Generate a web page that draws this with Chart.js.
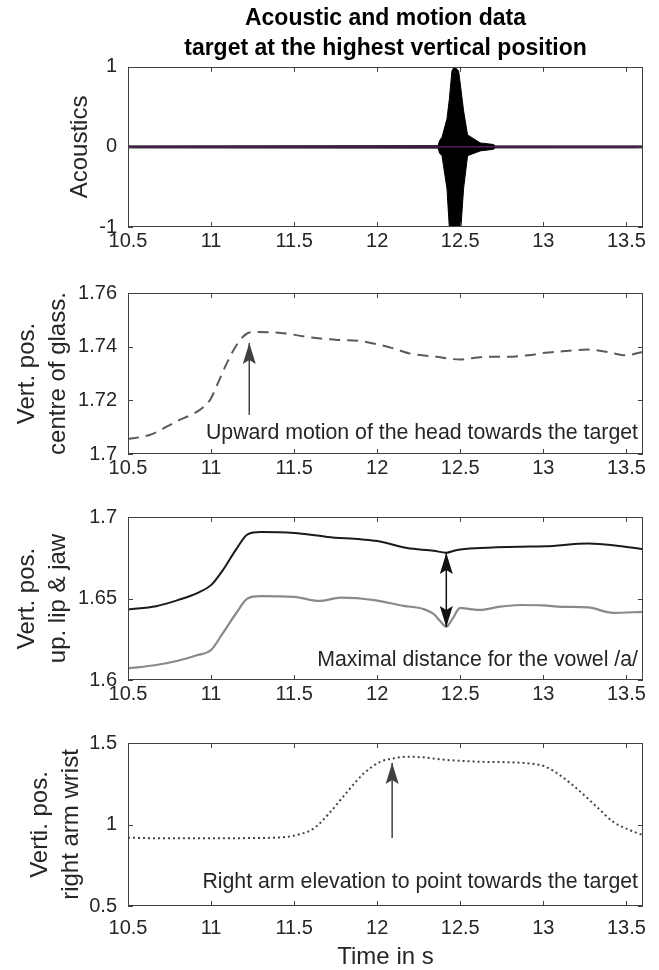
<!DOCTYPE html>
<html>
<head>
<meta charset="utf-8">
<title>Acoustic and motion data</title>
<script src="https://cdn.jsdelivr.net/npm/chart.js@4.4.1/dist/chart.umd.min.js"></script>
<style>
  body { margin: 0; background: #fff; }
  #page { position: relative; width: 659px; height: 970px; overflow: hidden; }
  #page canvas { position: absolute; left: 0; }
</style>
</head>
<body>
<div id="page">
  <canvas id="acoustics" width="659" height="260" style="top:0"></canvas>
  <canvas id="glasses" width="659" height="225" style="top:260px"></canvas>
  <canvas id="lipJaw" width="659" height="225" style="top:485px"></canvas>
  <canvas id="wrist" width="659" height="260" style="top:710px"></canvas>
</div>
<script>
// shared time axis (s)
const timeTicks = [10.5, 11, 11.5, 12, 12.5, 13, 13.5];
const timeMin = 10.5;
const timeMax = 13.6;

// acoustics: envelope of the waveform + zero line
const acTime  = [10.5, 12.366, 12.376, 12.39, 12.42, 12.434, 12.45, 12.464, 12.49, 12.504, 12.52, 12.544, 12.62, 12.70, 12.71, 13.6];
const acUpper = [0.012, 0.015, 0.08, 0.12, 0.35, 0.59, 0.95, 1.0, 0.95, 0.72, 0.45, 0.15, 0.05, 0.03, 0.012, 0.012];
const acLower = [-0.012, -0.015, -0.08, -0.11, -0.52, -1.0, -1.0, -1.0, -1.0, -1.0, -0.52, -0.11, -0.05, -0.03, -0.012, -0.012];
const acZeroTime = [10.5, 13.6];
const acZero = [0, 0];
const acTicks = [-1, 0, 1];

// vertical position, centre of glasses
const glassTime = [10.5, 10.63, 10.81, 10.9, 10.96, 11.0, 11.04, 11.1, 11.16, 11.22, 11.28, 11.45, 11.6, 11.75, 11.9, 12.0, 12.1, 12.2, 12.36, 12.5, 12.64, 12.76, 12.91, 13.01, 13.14, 13.27, 13.39, 13.49, 13.6];
const glassPos  = [1.7056, 1.7071, 1.7127, 1.7152, 1.7178, 1.7208, 1.7262, 1.7345, 1.7412, 1.745, 1.7455, 1.7449, 1.7434, 1.7426, 1.7421, 1.7409, 1.7393, 1.7374, 1.7362, 1.7352, 1.7362, 1.7362, 1.7368, 1.7377, 1.7384, 1.7389, 1.738, 1.7368, 1.738];
const glassTicks = [1.7, 1.72, 1.74, 1.76];

// upper lip (black) and jaw (grey)
const lipTime = [10.5, 10.67, 10.8, 10.92, 11.0, 11.07, 11.15, 11.22, 11.3, 11.5, 11.7, 11.9, 12.0, 12.18, 12.34, 12.415, 12.48, 12.62, 12.86, 13.01, 13.27, 13.42, 13.6];
const lipPos  = [1.6433, 1.6453, 1.649, 1.6535, 1.6582, 1.6673, 1.68, 1.6894, 1.6908, 1.6902, 1.6878, 1.6863, 1.6853, 1.681, 1.6793, 1.6781, 1.6798, 1.681, 1.6818, 1.682, 1.6837, 1.6827, 1.6802];
const jawTime = [10.5, 10.67, 10.8, 10.92, 11.0, 11.07, 11.15, 11.22, 11.3, 11.5, 11.65, 11.78, 11.98, 12.16, 12.28, 12.34, 12.38, 12.415, 12.45, 12.5, 12.56, 12.62, 12.74, 12.86, 13.0, 13.11, 13.27, 13.42, 13.6];
const jawPos  = [1.6071, 1.6092, 1.6118, 1.6153, 1.6184, 1.6286, 1.6408, 1.65, 1.6514, 1.651, 1.6485, 1.6505, 1.649, 1.6455, 1.6435, 1.6405, 1.636, 1.6327, 1.637, 1.6442, 1.6435, 1.643, 1.645, 1.646, 1.6458, 1.6449, 1.6445, 1.6412, 1.6418];
const lipTicks = [1.6, 1.65, 1.7];

// right arm wrist
const wristTime = [10.5, 10.74, 11.0, 11.25, 11.42, 11.54, 11.62, 11.72, 11.82, 11.92, 12.02, 12.1, 12.18, 12.26, 12.42, 12.62, 12.82, 12.91, 13.01, 13.11, 13.21, 13.32, 13.42, 13.52, 13.6];
const wristPos  = [0.919, 0.915, 0.915, 0.917, 0.921, 0.942, 0.977, 1.079, 1.201, 1.314, 1.385, 1.406, 1.416, 1.413, 1.396, 1.385, 1.381, 1.375, 1.356, 1.295, 1.2125, 1.11, 1.017, 0.966, 0.935];
const wristTicks = [0.5, 1, 1.5];

const FONT = '"Liberation Sans", Arial, Helvetica, sans-serif';
const AXIS_COLOR = '#404040';
const TEXT_COLOR = '#262626';

Chart.defaults.font.family = FONT;
Chart.defaults.color = TEXT_COLOR;
Chart.defaults.elements.point.radius = 0;
Chart.defaults.elements.point.hoverRadius = 0;

const pts = (xs, ys) => xs.map((x, i) => ({x: x, y: ys[i]}));

// box, inward ticks, arrows and notes in the MATLAB style
const matlabFrame = {
    id: 'matlabFrame',
    afterDraw(chart, args, opts) {
        const {ctx, chartArea: a, scales: {x, y}} = chart;
        ctx.save();
        ctx.strokeStyle = AXIS_COLOR;
        ctx.lineWidth = 1;
        ctx.beginPath();
        x.ticks.forEach(t => {
            const px = Math.round(x.getPixelForValue(t.value)) + 0.5;
            ctx.moveTo(px, a.bottom); ctx.lineTo(px, a.bottom - 5);
            ctx.moveTo(px, a.top); ctx.lineTo(px, a.top + 5);
        });
        y.ticks.forEach(t => {
            const py = Math.round(y.getPixelForValue(t.value)) + 0.5;
            ctx.moveTo(a.left, py); ctx.lineTo(a.left + 5, py);
            ctx.moveTo(a.right, py); ctx.lineTo(a.right - 5, py);
        });
        ctx.stroke();
        ctx.strokeRect(Math.round(a.left) + 0.5, Math.round(a.top) + 0.5,
                       Math.round(a.width) - 1, Math.round(a.height) - 1);

        (opts.arrows || []).forEach(ar => {
            const px = x.getPixelForValue(ar.x);
            const p0 = y.getPixelForValue(ar.from);
            const p1 = y.getPixelForValue(ar.to);
            ctx.strokeStyle = ar.color;
            ctx.fillStyle = ar.color;
            ctx.lineWidth = 1.5;
            ctx.beginPath();
            ctx.moveTo(px, p0); ctx.lineTo(px, p1);
            ctx.stroke();
            head(ctx, px, p1, p1 < p0 ? 1 : -1);
            if (ar.both) head(ctx, px, p0, p0 < p1 ? 1 : -1);
        });

        if (opts.note) {
            ctx.font = '21.3px ' + FONT;
            ctx.fillStyle = TEXT_COLOR;
            ctx.textAlign = 'right';
            ctx.textBaseline = 'middle';
            ctx.fillText(opts.note.text, x.getPixelForValue(opts.note.x), y.getPixelForValue(opts.note.y));
        }
        ctx.restore();
    }
};

// dir = 1: tip above its base
function head(ctx, px, tip, dir) {
    ctx.beginPath();
    ctx.moveTo(px, tip);
    ctx.lineTo(px - 6.5, tip + dir * 21);
    ctx.lineTo(px, tip + dir * 17);
    ctx.lineTo(px + 6.5, tip + dir * 21);
    ctx.closePath();
    ctx.fill();
}

function timeAxis(height, pad, title) {
    return {
        type: 'linear',
        min: timeMin,
        max: timeMax,
        afterBuildTicks: s => { s.ticks = timeTicks.map(v => ({value: v})); },
        afterFit: s => { s.height = height; },
        grid: {display: false, drawTicks: false},
        border: {display: false},
        ticks: {padding: pad, maxRotation: 0, autoSkip: false, font: {size: 20}, callback: v => String(v)},
        title: title ? {display: true, text: title, font: {size: 24, lineHeight: 1}, padding: {top: 0, bottom: 1}} : {display: false}
    };
}

function valueAxis(min, max, tickList, label, pad) {
    return {
        type: 'linear',
        min: min,
        max: max,
        afterBuildTicks: s => { s.ticks = tickList.map(v => ({value: v})); },
        afterFit: s => { s.width = 128; },
        grid: {display: false, drawTicks: false},
        border: {display: false},
        ticks: {padding: 11, font: {size: 20}, callback: v => String(v)},
        title: {display: true, text: label, font: {size: 24, lineHeight: 1.3}, padding: {top: pad, bottom: 0}}
    };
}

function baseOptions(top, xAxis, yAxis, frame) {
    return {
        responsive: false,
        animation: false,
        events: [],
        layout: {padding: {left: 0, right: 16, top: top, bottom: 0}},
        scales: {x: xAxis, y: yAxis},
        plugins: {
            legend: {display: false},
            tooltip: {enabled: false},
            title: {display: false},
            matlabFrame: frame
        }
    };
}

// 1. Acoustics
const acOptions = baseOptions(0, timeAxis(33, 2), valueAxis(-1, 1, acTicks, 'Acoustics', 64.4), {});
acOptions.plugins.title = {
    display: true,
    fullSize: false,
    text: ['Acoustic and motion data', 'target at the highest vertical position'],
    color: '#000',
    font: {size: 23, weight: 'bold', lineHeight: 1.3},
    padding: {top: 4, bottom: 3}
};
new Chart(document.getElementById('acoustics'), {
    type: 'line',
    data: {
        datasets: [
            {data: pts(acZeroTime, acZero), borderColor: '#7E2F8E', borderWidth: 1},
            {data: pts(acTime, acUpper), borderColor: '#000', backgroundColor: '#000', borderWidth: 1, fill: '+1'},
            {data: pts(acTime, acLower), borderColor: '#000', borderWidth: 1}
        ]
    },
    options: acOptions,
    plugins: [matlabFrame]
});

// 2. Glasses
new Chart(document.getElementById('glasses'), {
    type: 'line',
    data: {
        datasets: [{
            data: pts(glassTime, glassPos),
            borderColor: '#5a5a5a',
            borderWidth: 2,
            borderDash: [11, 7],
            cubicInterpolationMode: 'monotone'
        }]
    },
    options: baseOptions(33, timeAxis(31, 2), valueAxis(1.7, 1.76, glassTicks, ['Vert. pos.', 'centre of glass.'], 11.4), {
        arrows: [{x: 11.23, from: 1.7146, to: 1.7414, color: '#404040'}],
        note: {text: 'Upward motion of the head towards the target', x: 13.57, y: 1.7078}
    }),
    plugins: [matlabFrame]
});

// 3. Upper lip & jaw
new Chart(document.getElementById('lipJaw'), {
    type: 'line',
    data: {
        datasets: [
            {data: pts(lipTime, lipPos), borderColor: '#1a1a1a', borderWidth: 2, cubicInterpolationMode: 'monotone'},
            {data: pts(jawTime, jawPos), borderColor: '#8a8a8a', borderWidth: 2.2, cubicInterpolationMode: 'monotone'}
        ]
    },
    options: baseOptions(32, timeAxis(30, 2), valueAxis(1.6, 1.7, lipTicks, ['Vert. pos.', 'up. lip & jaw'], 11.4), {
        arrows: [{x: 12.416, from: 1.6325, to: 1.6779, both: true, color: '#111'}],
        note: {text: 'Maximal distance for the vowel /a/', x: 13.57, y: 1.6123}
    }),
    plugins: [matlabFrame]
});

// 4. Right arm wrist
new Chart(document.getElementById('wrist'), {
    type: 'line',
    data: {
        datasets: [{
            data: pts(wristTime, wristPos),
            borderColor: '#444',
            borderWidth: 2,
            borderDash: [2, 3],
            cubicInterpolationMode: 'monotone'
        }]
    },
    options: baseOptions(33, timeAxis(64, 10, 'Time in s'), valueAxis(0.5, 1.5, wristTicks, ['Verti. pos.', 'right arm wrist'], 24.4), {
        arrows: [{x: 12.09, from: 0.917, to: 1.377, color: '#404040'}],
        note: {text: 'Right arm elevation to point towards the target', x: 13.57, y: 0.647}
    }),
    plugins: [matlabFrame]
});
</script>
</body>
</html>
